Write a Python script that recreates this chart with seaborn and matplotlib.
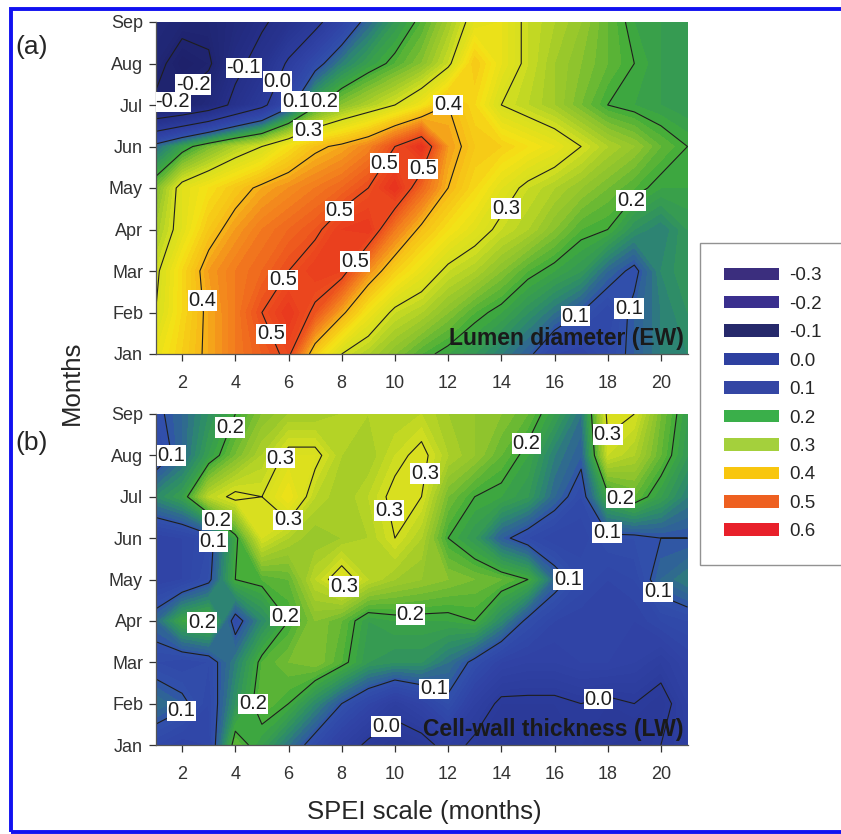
import numpy as np
import matplotlib
matplotlib.use("Agg")
import matplotlib.pyplot as plt
from matplotlib.patches import Patch, Rectangle
import seaborn as sns

# axes categories
months = ["Jan", "Feb", "Mar", "Apr", "May", "Jun", "Jul", "Aug", "Sep"]
spei_scales = list(range(1, 22))
x_ticks = [2, 4, 6, 8, 10, 12, 14, 16, 18, 20]

# correlation surfaces, rows Jan..Sep, columns SPEI 1..21
lumen_ew = [
    [0.33, 0.37, 0.41, 0.45, 0.48, 0.51, 0.37, 0.30, 0.27, 0.24, 0.21, 0.19, 0.17, 0.14, 0.11, 0.06, 0.05, 0.08, 0.11, 0.14, 0.15],
    [0.30, 0.36, 0.41, 0.45, 0.50, 0.54, 0.49, 0.41, 0.34, 0.29, 0.27, 0.24, 0.21, 0.19, 0.16, 0.13, 0.10, 0.07, 0.11, 0.14, 0.16],
    [0.29, 0.36, 0.42, 0.45, 0.47, 0.50, 0.53, 0.52, 0.43, 0.37, 0.33, 0.29, 0.27, 0.24, 0.21, 0.19, 0.17, 0.12, 0.09, 0.15, 0.17],
    [0.26, 0.32, 0.38, 0.42, 0.45, 0.47, 0.49, 0.53, 0.54, 0.45, 0.39, 0.35, 0.32, 0.29, 0.27, 0.24, 0.21, 0.20, 0.16, 0.14, 0.17],
    [0.23, 0.32, 0.35, 0.38, 0.41, 0.43, 0.45, 0.47, 0.50, 0.55, 0.47, 0.40, 0.36, 0.32, 0.29, 0.27, 0.25, 0.23, 0.21, 0.19, 0.19],
    [0.12, 0.18, 0.23, 0.27, 0.30, 0.35, 0.39, 0.41, 0.44, 0.50, 0.55, 0.42, 0.38, 0.37, 0.35, 0.33, 0.30, 0.27, 0.25, 0.22, 0.20],
    [-0.21, -0.19, -0.15, -0.08, -0.02, 0.08, 0.19, 0.24, 0.27, 0.30, 0.34, 0.40, 0.36, 0.30, 0.28, 0.26, 0.23, 0.20, 0.19, 0.18, 0.17],
    [-0.18, -0.23, -0.21, -0.12, -0.07, 0.01, 0.08, 0.14, 0.18, 0.21, 0.24, 0.29, 0.38, 0.33, 0.29, 0.26, 0.24, 0.22, 0.20, 0.18, 0.17],
    [-0.16, -0.18, -0.18, -0.15, -0.11, -0.07, -0.02, 0.05, 0.12, 0.17, 0.21, 0.26, 0.32, 0.33, 0.29, 0.27, 0.25, 0.22, 0.19, 0.18, 0.17],
]

cellwall_lw = [
    [0.07, 0.05, 0.06, 0.22, 0.18, 0.13, 0.08, 0.03, -0.01, -0.03, -0.02, 0.02, -0.01, -0.02, -0.03, -0.02, -0.01, -0.02, -0.03, 0.00, 0.02],
    [0.13, 0.11, 0.07, 0.16, 0.22, 0.20, 0.15, 0.10, 0.06, 0.02, 0.05, 0.09, 0.03, -0.01, -0.01, -0.01, 0.00, -0.01, 0.00, -0.02, 0.03],
    [0.08, 0.07, 0.08, 0.14, 0.21, 0.23, 0.24, 0.21, 0.17, 0.16, 0.16, 0.13, 0.09, 0.05, 0.04, 0.04, 0.05, 0.05, 0.04, 0.02, 0.05],
    [0.12, 0.19, 0.21, 0.08, 0.15, 0.20, 0.24, 0.22, 0.18, 0.19, 0.19, 0.19, 0.20, 0.15, 0.09, 0.06, 0.05, 0.05, 0.05, 0.07, 0.08],
    [0.05, 0.06, 0.09, 0.20, 0.21, 0.22, 0.28, 0.32, 0.28, 0.26, 0.25, 0.24, 0.23, 0.22, 0.20, 0.12, 0.08, 0.06, 0.07, 0.12, 0.14],
    [0.05, 0.06, 0.08, 0.19, 0.30, 0.27, 0.25, 0.26, 0.27, 0.30, 0.27, 0.20, 0.17, 0.11, 0.08, 0.06, 0.06, 0.09, 0.09, 0.10, 0.10],
    [0.15, 0.18, 0.28, 0.31, 0.30, 0.34, 0.28, 0.26, 0.28, 0.31, 0.30, 0.23, 0.20, 0.19, 0.17, 0.12, 0.08, 0.19, 0.22, 0.18, 0.14],
    [0.07, 0.12, 0.18, 0.23, 0.27, 0.31, 0.31, 0.27, 0.26, 0.29, 0.31, 0.27, 0.25, 0.22, 0.19, 0.14, 0.11, 0.29, 0.27, 0.22, 0.17],
    [0.09, 0.12, 0.16, 0.20, 0.24, 0.26, 0.26, 0.27, 0.27, 0.27, 0.28, 0.26, 0.25, 0.24, 0.22, 0.18, 0.13, 0.31, 0.30, 0.23, 0.18],
]

# where the contour labels sit in the original (SPEI scale, month index)
labels_ew = [(2.2, 6.65), (1.5, 6.2), (4.3, 6.9), (5.7, 6.53), (6.2, 6.12), (7.3, 6.12),
             (6.7, 5.45), (12.1, 6.05), (9.6, 4.6), (10.5, 4.6), (8.0, 3.4), (8.4, 2.27),
             (5.8, 1.78), (5.4, 0.5), (2.9, 1.3), (14.4, 3.42), (18.5, 3.9), (16.7, 1.0),
             (18.6, 1.13)]
labels_lw = [(4.1, 7.6), (1.7, 7.0), (6.0, 6.84), (10.8, 6.6), (9.9, 5.68), (3.5, 5.58),
             (3.5, 4.9), (5.4, 5.02), (8.1, 3.82), (6.3, 3.33), (2.7, 2.83), (10.6, 2.78),
             (4.4, 0.92), (2.0, 0.8), (9.6, 0.5), (11.4, 1.2), (14.9, 7.3), (18.3, 7.13),
             (18.5, 6.0), (18.0, 5.15), (17.2, 3.94), (19.9, 3.7), (17.6, 1.26)]

# legend entries
legend_levels = ["-0.3", "-0.2", "-0.1", "0.0", "0.1", "0.2", "0.3", "0.4", "0.5", "0.6"]
legend_colors = ["#3b2e7e", "#3a2f8e", "#26296b", "#2e40a0", "#3446a4",
                 "#3aaf4a", "#a4d03c", "#f8c60e", "#ee6020", "#e8202a"]

# colour ramp of the filled surface, one anchor every 0.05 from -0.3 to 0.6
ramp = ["#1c1a5e", "#1d1f66", "#1f2470", "#222a7c", "#252f88", "#283592", "#2c3c9c",
        "#3043a6", "#3150ac", "#2c8a6c", "#3fab3a", "#94c62c", "#d4df20", "#f5e216",
        "#f7b818", "#f27a1e", "#ec4f1e", "#e8321e", "#e4201c"]
line_levels = [-0.2, -0.1, 0.0, 0.1, 0.2, 0.3, 0.4, 0.5]

sns.set_style("ticks")
plt.rcParams["font.family"] = ["Liberation Sans", "DejaVu Sans"]
cmap = sns.blend_palette(ramp, as_cmap=True)

W, H = 841.0, 834.0
fig = plt.figure(figsize=(W / 100, H / 100), dpi=100)


def draw_panel(rect, data, label_spots, title):
    ax = fig.add_axes(rect)
    z = np.array(data)
    xx, yy = np.meshgrid(spei_scales, np.arange(len(months)))
    ax.contourf(xx, yy, z, levels=np.linspace(-0.3, 0.6, 91), cmap=cmap,
                vmin=-0.3, vmax=0.6, extend="both")
    cs = ax.contour(xx, yy, z, levels=line_levels, colors="#1e1e1e",
                    linewidths=0.8, negative_linestyles="solid")
    labels = ax.clabel(cs, fmt=lambda v: f"{v:.1f}", fontsize=14.5, inline=False,
                       manual=label_spots)
    for t in labels:
        t.set_rotation(0)
        t.set_bbox(dict(facecolor="white", edgecolor="none", pad=0.6))
    ax.set_xlim(1, 21)
    ax.set_ylim(0, len(months) - 1)
    ax.set_xticks(x_ticks)
    ax.set_yticks(range(len(months)))
    ax.set_yticklabels(months)
    ax.tick_params(axis="both", direction="out", length=5, width=0.9,
                   labelsize=13, colors="#333333")
    ax.tick_params(axis="x", pad=10)
    ax.tick_params(axis="y", pad=4)
    for side in ["top", "right"]:
        ax.spines[side].set_visible(False)
    for side in ["left", "bottom"]:
        ax.spines[side].set_color("#555555")
        ax.spines[side].set_linewidth(0.9)
    ax.text(0.993, 0.012, title, transform=ax.transAxes, ha="right", va="bottom",
            fontsize=16.5, fontweight="bold", color="#1a1a1a")
    return ax


rect_a = [155.5 / W, 1 - 354 / H, 532 / W, 332 / H]
rect_b = [155.5 / W, 1 - 745 / H, 532 / W, 331 / H]
draw_panel(rect_a, lumen_ew, labels_ew, "Lumen diameter (EW)")
draw_panel(rect_b, cellwall_lw, labels_lw, "Cell-wall thickness (LW)")

fig.text(32 / W, 1 - 47 / H, "(a)", ha="center", va="center", fontsize=19)
fig.text(32 / W, 1 - 443 / H, "(b)", ha="center", va="center", fontsize=19)
fig.text(72 / W, 1 - 383 / H, "Months", rotation=90, ha="center", va="center", fontsize=18.5)
fig.text(424 / W, 1 - 812 / H, "SPEI scale (months)", ha="center", va="center", fontsize=18.5)

handles = [Patch(facecolor=c, edgecolor="none") for c in legend_colors]
leg = fig.legend(handles, legend_levels, loc="upper left",
                 bbox_to_anchor=(700 / W, 1 - 243 / H), borderaxespad=0,
                 fontsize=13.5, handlelength=2.9, handleheight=0.65,
                 handletextpad=0.55, labelspacing=0.61, borderpad=1.3,
                 fancybox=False, frameon=True)
leg.get_frame().set_edgecolor("#777777")
leg.get_frame().set_linewidth(1.0)

# blue frame around the whole figure
fig.patches.append(Rectangle((10.5 / W, 1 - 832 / H), 1.5, (832 - 8.5) / H, fill=False,
                             edgecolor="#1212f0", linewidth=2.8,
                             transform=fig.transFigure, clip_on=False))

fig.savefig("out.png", dpi=100)
